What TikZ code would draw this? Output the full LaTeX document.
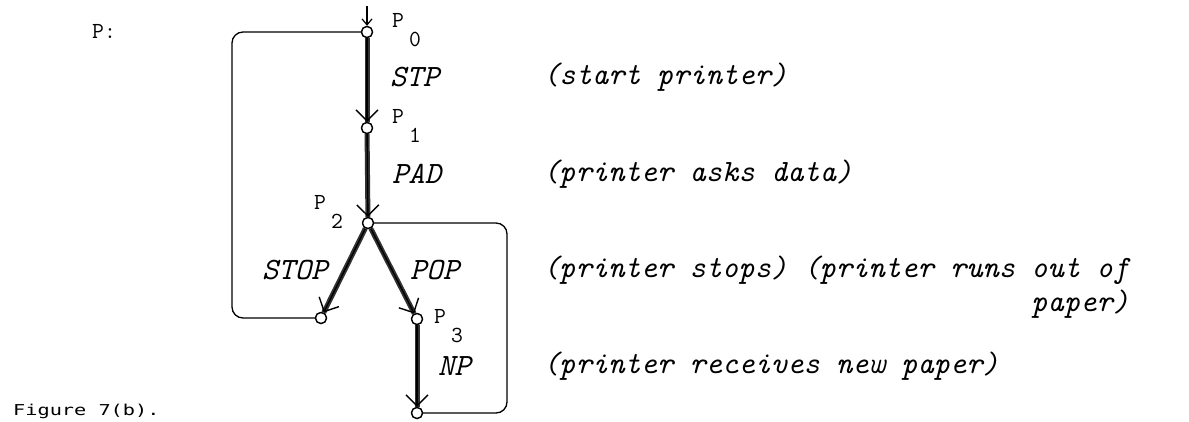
\documentclass[tikz,border=0pt]{standalone}
\usepackage{fontspec}
\newfontfamily\figfont{DejaVu Sans Mono}
\usetikzlibrary{arrows.meta}
\begin{document}
\begin{tikzpicture}[x=1pt,y=-1pt,
  state/.style={circle,draw,fill=white,line width=1.3pt,inner sep=0pt,minimum size=11pt},
  thickedge/.style={line width=5pt,black!80},
  barb/.style={line width=1.4pt,-{Straight Barb[length=11pt,width=22pt,line width=1.4pt]}},
  loopline/.style={line width=1.3pt,rounded corners=11pt},
  plab/.style={font=\ttfamily\fontsize{23}{25}\selectfont,inner sep=0pt,anchor=west},
  ilab/.style={font=\ttfamily\itshape\fontsize{31}{34}\selectfont,inner sep=0pt,anchor=west}]
\useasboundingbox (0,0) rectangle (1189,421);
% states
\node[state] (p0) at (367,32) {};
\node[state] (p1) at (367,128) {};
\node[state] (p2) at (368,223) {};
\node[state] (s)  at (321,318) {};
\node[state] (p3) at (417,319) {};
\node[state] (e)  at (417,413) {};
\coordinate (top) at (367,6);
\coordinate (L) at (232,0);
\coordinate (R) at (507,0);
% loops
\draw[loopline] (s) -- (s -| L) -- (p0 -| L) -- (p0);
\draw[loopline] (p2) -- (p2 -| R) -- (e -| R) -- (e);
% thick edges
\draw[thickedge] (p0) -- (p1);
\draw[thickedge] (p1) -- (p2);
\draw[thickedge] (p2) -- (s);
\draw[thickedge] (p2) -- (p3);
\draw[thickedge] (p3) -- (e);
\draw[barb] (p0) -- (p1);
\draw[barb] (p1) -- (p2);
\draw[barb] (p2) -- (s);
\draw[barb] (p2) -- (p3);
\draw[barb] (p3) -- (e);
\draw[line width=1.2pt,-{Straight Barb[length=6pt,width=10pt,line width=1.2pt]}] (top) -- (p0);
\node[state] at (p0) {};
\node[state] at (p1) {};
\node[state] at (p2) {};
\node[state] at (s) {};
\node[state] at (p3) {};
\node[state] at (e) {};
% labels
\node[plab] (pl) at (92,31) {P:};
\node[plab] (l0) at (392,30) {P\kern5pt\raisebox{-19pt}{0}};
\node[plab] (l1) at (392,126) {P\kern5pt\raisebox{-19pt}{1}};
\node[plab] (l2) at (314,212) {P\kern5pt\raisebox{-19pt}{2}};
\node[plab] (l3) at (434,326) {P\kern5pt\raisebox{-19pt}{3}};
\node[ilab] (stp) at (390,77) {STP};
\node[ilab] (pad) at (392,174) {PAD};
\node[ilab] (stop) at (262,270) {STOP};
\node[ilab] (pop) at (410,270) {POP};
\node[ilab] (np) at (438,366) {NP};
\node[ilab] (t1) at (543,77) {(start printer)};
\node[ilab] (t2) at (543,174) {(printer asks data)};
\node[ilab] (t3) at (543,270) {(printer stops) (printer runs out of};
\path (t3.east) ++(0,34) node[ilab,anchor=east] (t4) {paper)};
\node[ilab] (t5) at (543,366) {(printer receives new paper)};
\node[font=\figfont\fontsize{15}{18}\selectfont,inner sep=0pt,anchor=west] (fig) at (13,411) {\scalebox{1.35}[1]{Figure 7(b).}};
\end{tikzpicture}
\end{document}
